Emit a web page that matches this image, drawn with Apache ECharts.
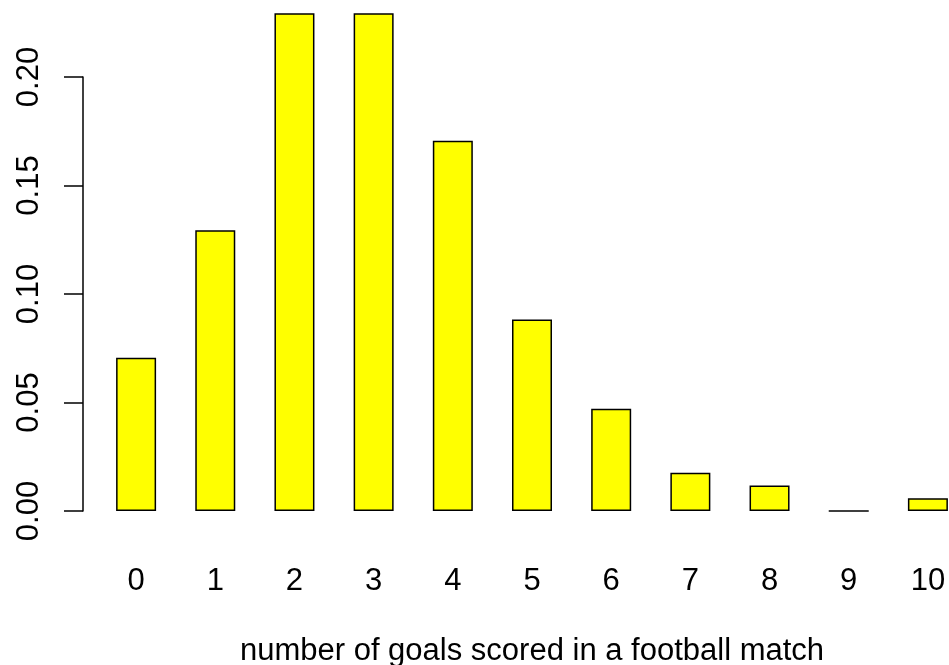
<!DOCTYPE html>
<html>
<head>
<meta charset="utf-8">
<script src="https://cdn.jsdelivr.net/npm/echarts@6/dist/echarts.min.js"></script>
<style>
  html, body { margin: 0; padding: 0; background: #ffffff; }
  #chart { width: 949px; height: 665px; }
</style>
</head>
<body>
<div id="chart"></div>
<script>
// Data
var goals = ['0', '1', '2', '3', '4', '5', '6', '7', '8', '9', '10'];
var proportions = [0.0706, 0.1294, 0.2294, 0.2294, 0.1706, 0.0882, 0.0471, 0.0176, 0.0118, 0, 0.0059];
var yTicks = { min: 0, max: 0.20, interval: 0.05 };
var xTitle = 'number of goals scored in a football match';

var FONT = 'Liberation Sans, Arial, Helvetica, sans-serif';
var chart = echarts.init(document.getElementById('chart'), null, { renderer: 'canvas' });

chart.setOption({
  backgroundColor: '#ffffff',
  animation: false,
  grid: { left: 96.5, right: -18.5, top: 77, bottom: 154, containLabel: false, outerBoundsMode: 'none' },
  xAxis: {
    type: 'category',
    data: goals,
    boundaryGap: true,
    axisLine: { show: false },
    axisTick: { show: false },
    splitLine: { show: false },
    axisLabel: { color: '#000', fontFamily: FONT, fontSize: 31, margin: 55 },
    name: xTitle,
    nameLocation: 'middle',
    nameGap: 125,
    nameTextStyle: { color: '#000', fontFamily: FONT, fontSize: 31 }
  },
  yAxis: {
    type: 'value',
    min: yTicks.min,
    max: yTicks.max,
    interval: yTicks.interval,
    offset: 13.5,
    axisLine: { show: true, lineStyle: { color: '#000', width: 1.5 } },
    axisTick: { show: true, length: 19, lineStyle: { color: '#000', width: 1.5 } },
    splitLine: { show: false },
    axisLabel: {
      color: '#000', fontFamily: FONT, fontSize: 31, rotate: 90, margin: 38,
      formatter: function (v) { return v.toFixed(2); }
    }
  },
  series: [{
    type: 'bar',
    data: proportions,
    barWidth: 40,
    clip: false,
    itemStyle: { color: '#FFFF00', borderColor: '#000', borderWidth: 1.5 }
  }]
});
</script>
</body>
</html>
